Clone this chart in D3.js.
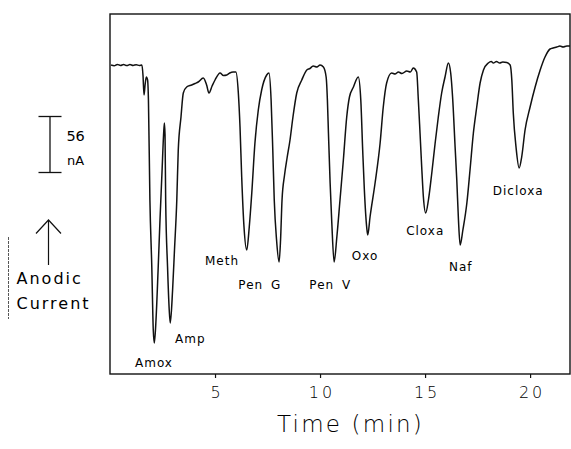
<!DOCTYPE html>
<html>
<head>
<meta charset="utf-8">
<script src="https://cdn.jsdelivr.net/npm/d3@7"></script>
<style>
  html, body { margin: 0; padding: 0; background: #fff; }
  svg text { font-family: "DejaVu Sans", sans-serif; fill: #000; }
  .light { font-weight: 200; }
</style>
</head>
<body>
<svg id="chart" width="571" height="449"></svg>
<script>
// Anodic current (nA) recorded against retention time (min)
const traceTime = [
  0.05, 0.2, 0.35, 0.5, 0.65, 0.8, 0.95, 1.1, 1.25, 1.4, 1.52,
  1.57, 1.62, 1.67, 1.73, 1.79, 1.83, 1.90, 1.99, 2.06, 2.11,
  2.19, 2.29, 2.38, 2.48, 2.55, 2.59,
  2.62, 2.65, 2.74, 2.82, 2.87,
  2.98, 3.07, 3.18, 3.25, 3.38, 3.49, 3.65, 3.89, 4.05, 4.20, 4.44, 4.60, 4.71, 4.86, 5.00, 5.24, 5.40, 5.56, 5.70, 5.86,
  5.99, 6.11, 6.19, 6.27, 6.38, 6.51, 6.63, 6.75, 6.90, 7.06, 7.22, 7.46, 7.57,
  7.67, 7.75, 7.82, 7.93, 8.05, 8.12, 8.19, 8.31, 8.43, 8.57, 8.71, 8.89, 9.13, 9.37, 9.52, 9.67, 9.85, 10.00, 10.16,
  10.29, 10.35, 10.40, 10.48, 10.56, 10.67, 10.80, 10.95, 11.11, 11.27, 11.40, 11.59, 11.82,
  11.94, 12.03, 12.11, 12.22, 12.27, 12.38, 12.62, 12.86, 13.01, 13.17, 13.41, 13.57, 13.73, 13.90, 14.13, 14.30, 14.44, 14.60,
  14.68, 14.76, 14.84, 14.92, 15.03, 15.16, 15.32, 15.48, 15.63, 15.79, 15.95, 16.11,
  16.22, 16.31, 16.43, 16.51, 16.59, 16.67, 16.80, 16.99, 17.14, 17.30, 17.46, 17.62, 17.78, 18.01, 18.15, 18.25, 18.40, 18.55, 18.70, 18.89, 19.05,
  19.13, 19.20, 19.33, 19.48, 19.60, 19.76, 20.00, 20.24, 20.48, 20.71, 20.95, 21.10, 21.27, 21.42, 21.57, 21.75, 21.90
];
const traceCurrent = [
  309, 308.3, 309.6, 308.5, 309.4, 308.4, 309.5, 308.6, 309.3, 308.5, 309,
  299, 279, 289, 297, 294, 274, 174, 107, 44, 31,
  54, 104, 154, 204, 239, 251,
  239, 174, 107, 64, 51,
  84, 124, 174, 224, 257, 281, 287, 289, 290.5, 292, 296, 289, 281, 288, 294, 301, 298.5, 299, 301, 302,
  302, 281, 247, 197, 147, 124, 147, 181, 231, 264, 284, 299, 301,
  274, 224, 174, 134, 112, 134, 174, 199, 216, 234, 257, 281, 294, 304, 305.5, 308, 307, 309, 307,
  297, 274, 241, 191, 151, 112, 137, 174, 214, 257, 277, 287, 297,
  274, 224, 184, 147, 139, 157, 191, 231, 267, 291, 301, 300, 302, 300.5, 303, 302, 306, 302,
  274, 241, 207, 177, 161, 174, 201, 231, 257, 281, 297, 311,
  301, 277, 227, 194, 154, 129, 144, 171, 204, 241, 267, 291, 304, 311, 312.5, 311, 312.5, 311, 312, 311.5, 309,
  294, 261, 227, 206, 217, 244, 267, 287, 304, 317, 325, 326, 327, 328, 327, 328, 328
];

// Compound names and where each name sits (time, current)
const peakNames = ["Amox", "Amp", "Meth", "Pen G", "Pen V", "Oxo", "Cloxa", "Naf", "Dicloxa"];
const labelTime = [1.19, 3.10, 4.52, 6.11, 9.49, 11.51, 14.10, 16.14, 18.22];
const labelCurrent = [7.3, 31.3, 109, 84.7, 84.7, 114, 139, 103.3, 179];

const xTicks = [5, 10, 15, 20];
const timeDomain = [0, 21.9];
const currentDomain = [0, 360];
const scaleBarNA = 56;

const svg = d3.select("#chart");
svg.append("rect").attr("width", 571).attr("height", 449).attr("fill", "#fff");

const x = d3.scaleLinear().domain(timeDomain).range([110, 570]);
const y = d3.scaleLinear().domain(currentDomain).range([374, 14]);

// plot frame
svg.append("rect")
  .attr("x", x(timeDomain[0])).attr("y", y(currentDomain[1]))
  .attr("width", x(timeDomain[1]) - x(timeDomain[0]))
  .attr("height", y(currentDomain[0]) - y(currentDomain[1]))
  .attr("fill", "none").attr("stroke", "#111").attr("stroke-width", 1.4);

// time axis
const xAxis = svg.append("g")
  .attr("transform", `translate(0,${y(currentDomain[0])})`)
  .call(d3.axisBottom(x).tickValues(xTicks).tickSize(4).tickPadding(9).tickFormat(d3.format("d")));
xAxis.select(".domain").remove();
xAxis.selectAll("line").attr("stroke", "#111").attr("stroke-width", 1.2);
xAxis.selectAll("text")
  .attr("fill", "#000")
  .style("font-family", "'DejaVu Sans', sans-serif")
  .style("font-size", "16px")
  .style("font-weight", "300")
  .style("letter-spacing", "3px")
  .attr("dx", "1.5px");

svg.append("text")
  .attr("class", "light")
  .attr("x", 277).attr("y", 431.5)
  .style("font-size", "23px")
  .style("letter-spacing", "2.2px")
  .text("Time (min)");

// the current trace
const points = traceTime.map((t, i) => [t, traceCurrent[i]]);
svg.append("path")
  .datum(points)
  .attr("fill", "none")
  .attr("stroke", "#111")
  .attr("stroke-width", 1.5)
  .attr("stroke-linejoin", "round")
  .attr("d", d3.line().x(d => x(d[0])).y(d => y(d[1])).curve(d3.curveMonotoneX));

// compound labels
svg.append("g").selectAll("text")
  .data(peakNames)
  .join("text")
  .attr("x", (d, i) => x(labelTime[i]))
  .attr("y", (d, i) => y(labelCurrent[i]))
  .style("font-size", "12px")
  .style("letter-spacing", "1px")
  .style("word-spacing", "3px")
  .text(d => d);

// 56 nA scale bar
const barTop = 116.5;
const barLen = y(0) - y(scaleBarNA);
const bar = svg.append("g").attr("stroke", "#111").attr("stroke-width", 1.3);
bar.append("line").attr("x1", 50).attr("x2", 50).attr("y1", barTop).attr("y2", barTop + barLen);
bar.append("line").attr("x1", 38.5).attr("x2", 61.5).attr("y1", barTop).attr("y2", barTop);
bar.append("line").attr("x1", 38.5).attr("x2", 61.5).attr("y1", barTop + barLen).attr("y2", barTop + barLen);
svg.append("text").attr("x", 66.5).attr("y", 140.7)
  .style("font-size", "14.5px").style("letter-spacing", "-0.3px").text(String(scaleBarNA));
svg.append("text").attr("x", 67).attr("y", 165)
  .style("font-size", "13px").text("nA");

// anodic direction arrow
const arrow = svg.append("g").attr("stroke", "#111").attr("stroke-width", 1.2).attr("fill", "none");
arrow.append("line").attr("x1", 48.5).attr("x2", 48.5).attr("y1", 220).attr("y2", 265);
arrow.append("polyline").attr("points", "36,233.5 48.5,220 61,233.5");

svg.append("line").attr("x1", 8.5).attr("x2", 8.5).attr("y1", 237).attr("y2", 319)
  .attr("stroke", "#444").attr("stroke-width", 0.9).attr("stroke-dasharray", "3,1");

svg.append("text").attr("x", 16.5).attr("y", 284)
  .style("font-size", "16px").style("letter-spacing", "2px").text("Anodic");
svg.append("text").attr("x", 16.5).attr("y", 309.3)
  .style("font-size", "16px").style("letter-spacing", "2px").text("Current");
</script>
</body>
</html>
